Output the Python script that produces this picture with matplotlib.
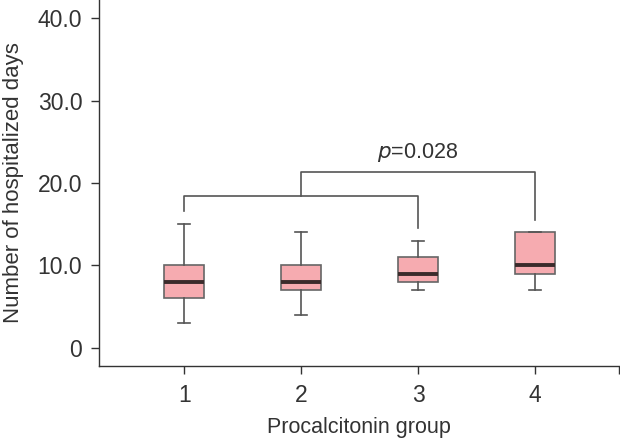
import matplotlib
matplotlib.use("Agg")
import matplotlib.pyplot as plt

groups = [1, 2, 3, 4]
whislo = [3, 4, 7, 7]
q1 = [6, 7, 8, 9]
med = [8, 8, 9, 10]
q3 = [10, 10, 11, 14]
whishi = [15, 14, 13, 14]
yticks = [0, 10, 20, 30, 40]
yticklabels = ["0", "10.0", "20.0", "30.0", "40.0"]
p_text = "=0.028"

plt.rcParams['font.family'] = ['Liberation Sans', 'DejaVu Sans']

fig = plt.figure(figsize=(6.2, 4.38), dpi=100)
ax = fig.add_axes([99/620, 1-366/438, 520/620, 366/438])

stats = []
for i in range(len(groups)):
    stats.append(dict(whislo=whislo[i], q1=q1[i], med=med[i], q3=q3[i], whishi=whishi[i], fliers=[]))

ax.bxp(stats, positions=groups, widths=0.34, patch_artist=True, showfliers=False,
       boxprops=dict(facecolor='#f6abb0', edgecolor='#666666', linewidth=1.2),
       medianprops=dict(color='#3b2b2b', linewidth=2.8),
       whiskerprops=dict(color='#555555', linewidth=1.2),
       capprops=dict(color='#555555', linewidth=1.2),
       capwidths=0.1)

lc = '#555555'
# bracket 1 (1 vs 3)
ax.plot([1, 1, 3, 3], [16.6, 18.4, 18.4, 14.6], color=lc, lw=1.2)
# bracket 2 (from bracket 1 middle to 4)
ax.plot([2, 2, 4, 4], [18.4, 21.3, 21.3, 15.5], color=lc, lw=1.2)
ax.text(3, 22.3, r"$\it{p}$" + p_text, ha='center', va='bottom', fontsize=15.5, color='#333333')

ax.set_xlim(0.27, 4.72)
ax.set_ylim(-2.2, 42.2)
ax.set_xticks(groups)
ax.set_xticklabels([str(g) for g in groups])
ax.set_xticks([4.72], minor=True)
ax.set_yticks(yticks)
ax.set_yticklabels(yticklabels)
for s in ['top', 'right']:
    ax.spines[s].set_visible(False)
for s in ['left', 'bottom']:
    ax.spines[s].set_color('#333333')
    ax.spines[s].set_linewidth(1.0)
ax.tick_params(axis='both', which='both', direction='out', length=6, color='#333333',
               labelsize=16.5, labelcolor='#333333', width=1.0)
ax.tick_params(axis='x', pad=7)
ax.tick_params(axis='y', pad=6)
ax.set_xlabel("Procalcitonin group", fontsize=15.5, color='#333333', labelpad=7)
ax.set_ylabel("Number of hospitalized days", fontsize=16, color='#333333', labelpad=10)

fig.savefig("out.png", dpi=100)
